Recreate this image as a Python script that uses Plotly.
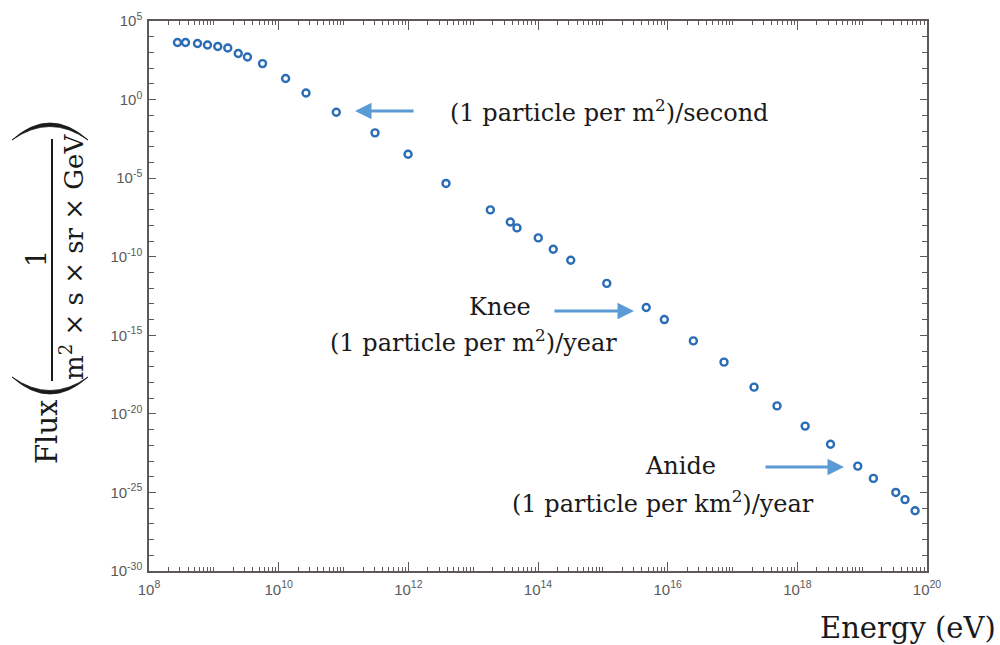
import plotly.graph_objects as go

# ---- data ----
energy_eV = [2.75e8, 3.66e8, 5.6e8, 7.98e8, 1.15e9, 1.64e9, 2.38e9, 3.3e9, 5.64e9,
             1.28e10, 2.64e10, 7.74e10, 3.06e11, 9.9e11, 3.81e12, 1.84e13, 3.74e13,
             4.74e13, 1.01e14, 1.72e14, 3.2e14, 1.15e15, 4.67e15, 8.89e15, 2.49e16,
             7.4e16, 2.15e17, 4.86e17, 1.32e18, 3.25e18, 8.55e18, 1.49e19, 3.3e19,
             4.58e19, 6.55e19]
flux = [4.27e3, 4.27e3, 3.7e3, 2.95e3, 2.4e3, 1.9e3, 8.5e2, 5.1e2, 1.95e2,
        21.9, 2.63, 0.155, 7.6e-3, 3.3e-4, 4.6e-6, 9.5e-8, 1.62e-8,
        6.8e-9, 1.58e-9, 3.0e-10, 6.0e-11, 2.0e-12, 5.9e-14, 1.0e-14, 4.4e-16,
        1.95e-17, 5.0e-19, 3.2e-20, 1.66e-21, 1.17e-22, 4.7e-24, 7.8e-25, 1.0e-25,
        3.5e-26, 6.8e-27]

x_tick_vals = [1e8, 1e10, 1e12, 1e14, 1e16, 1e18, 1e20]
x_tick_text = ["10<sup>8</sup>", "10<sup>10</sup>", "10<sup>12</sup>", "10<sup>14</sup>",
               "10<sup>16</sup>", "10<sup>18</sup>", "10<sup>20</sup>"]
y_tick_vals = [1e5, 1e0, 1e-5, 1e-10, 1e-15, 1e-20, 1e-25, 1e-30]
y_tick_text = ["10<sup>5</sup>", "10<sup>0</sup>", "10<sup>-5</sup>", "10<sup>-10</sup>",
               "10<sup>-15</sup>", "10<sup>-20</sup>", "10<sup>-25</sup>", "10<sup>-30</sup>"]

# ---- layout geometry (pixels) ----
W, H = 1000, 645
L, R, T, B = 149, 927, 21, 571


def px(x):
    return (x - L) / (R - L)


def py(y):
    return (B - y) / (B - T)


AXC = "#5e5858"
TICKFONT = dict(family="Liberation Sans, Arial", size=15, color="#5a5a5a")
SERIF = "DejaVu Serif"
ARROWC = "#5b9bd5"
INK = "#1a1a1a"

fig = go.Figure()
fig.add_trace(go.Scatter(
    x=energy_eV, y=flux, mode="markers",
    marker=dict(symbol="circle-open", size=7, color="#2a6cb6", line=dict(width=2.4, color="#2a6cb6")),
    showlegend=False, hoverinfo="x+y"))
# invisible trace to bring up the mirrored top/right axes (for their minor ticks)
fig.add_trace(go.Scatter(x=[energy_eV[0]], y=[flux[0]], xaxis="x2", yaxis="y2", mode="markers",
                         marker=dict(opacity=0), showlegend=False, hoverinfo="skip"))

common_x = dict(type="log", range=[8, 20], tickvals=x_tick_vals, showgrid=False, zeroline=False,
                showline=True, linecolor=AXC, linewidth=1.5, ticks="inside", ticklen=9,
                tickwidth=1.2, tickcolor=AXC, automargin=False,
                minor=dict(dtick="D1", ticks="inside", ticklen=4, tickwidth=1, tickcolor=AXC, showgrid=False))
common_y = dict(type="log", range=[-30, 5], tickvals=y_tick_vals, showgrid=False, zeroline=False,
                showline=True, linecolor=AXC, linewidth=1.5, ticks="inside", ticklen=7,
                tickwidth=1.2, tickcolor=AXC, automargin=False,
                minor=dict(dtick=1, ticks="inside", ticklen=5, tickwidth=1, tickcolor=AXC, showgrid=False))

fig.update_layout(
    xaxis=dict(**common_x, ticktext=x_tick_text, tickfont=TICKFONT, ticklabelstandoff=4),
    yaxis=dict(**common_y, ticktext=y_tick_text, tickfont=TICKFONT, ticklabelstandoff=2),
    xaxis2=dict(**common_x, overlaying="x", side="top", anchor="y2", showticklabels=False),
    yaxis2=dict(**common_y, overlaying="y", side="right", anchor="x2", showticklabels=False),
)

ann = []
# arrows
for head, tail in [((355, 111), (415, 111)), ((634, 311), (553, 311)), ((844, 467), (764, 467))]:
    ann.append(dict(xref="paper", yref="paper", x=px(head[0]), y=py(head[1]),
                    ax=tail[0] - head[0], ay=tail[1] - head[1], text="", showarrow=True,
                    arrowhead=2, arrowsize=1.1, arrowwidth=3, arrowcolor=ARROWC, standoff=0))


def txt(x, y, s, size=24, xanchor="center", angle=0):
    return dict(xref="paper", yref="paper", x=px(x), y=py(y), text=s, showarrow=False,
                xanchor=xanchor, yanchor="middle", textangle=angle,
                font=dict(family=SERIF, size=size, color=INK))


ann += [
    txt(448, 111, "(1 particle per m<sup>2</sup>)/second", xanchor="left"),
    txt(500, 307, "Knee"),
    txt(473, 341, "(1 particle per m<sup>2</sup>)/year"),
    txt(680, 466, "Anide"),
    txt(663, 502, "(1 particle per km<sup>2</sup>)/year"),
    txt(818, 628, "Energy (eV)", size=29, xanchor="left"),
    txt(47, 432, "Flux", size=29, angle=-90),
    txt(36, 259, "1", size=27, angle=-90),
    txt(72, 257, "m<sup>2</sup> × s × sr × GeV", size=26, angle=-90),
]

shapes = [
    dict(type="line", xref="paper", yref="paper", x0=px(52), x1=px(52), y0=py(139), y1=py(381),
         line=dict(color=INK, width=2)),
    # large parentheses drawn as crescents
    dict(type="path", xref="paper", yref="paper",
         path=(f"M {px(12)},{py(140)} Q {px(50)},{py(106)} {px(88)},{py(140)} "
               f"Q {px(50)},{py(113)} {px(12)},{py(140)} Z"),
         fillcolor=INK, line=dict(color=INK, width=0.8)),
    dict(type="path", xref="paper", yref="paper",
         path=(f"M {px(12)},{py(377)} Q {px(50)},{py(411)} {px(88)},{py(377)} "
               f"Q {px(50)},{py(404)} {px(12)},{py(377)} Z"),
         fillcolor=INK, line=dict(color=INK, width=0.8)),
]

fig.update_layout(width=W, height=H, margin=dict(l=L, r=W - R, t=T, b=H - B, autoexpand=False),
                  paper_bgcolor="white", plot_bgcolor="white",
                  annotations=ann, shapes=shapes, showlegend=False)

fig.write_html("out.html")
